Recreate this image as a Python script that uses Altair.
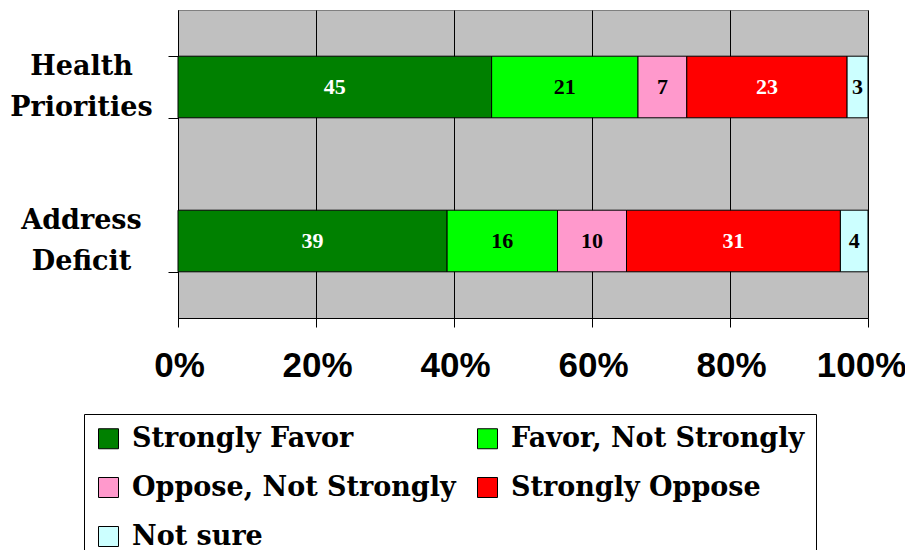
import altair as alt
import pandas as pd

questions = ["Health Priorities", "Address Deficit"]
responses = ["Strongly Favor", "Favor, Not Strongly", "Oppose, Not Strongly", "Strongly Oppose", "Not sure"]
health_values = [45, 21, 7, 23, 3]
deficit_values = [39, 16, 10, 31, 4]
colors = ["#008000", "#00FF00", "#FF99CC", "#FF0000", "#CCFFFF"]
text_colors = ["white", "black", "black", "white", "black"]
x_ticks = [0, 0.2, 0.4, 0.6, 0.8, 1.0]

rows = []
for q, vals in zip(questions, [health_values, deficit_values]):
    for i, (r, v) in enumerate(zip(responses, vals)):
        rows.append({"question": q, "response": r, "value": v, "order": i, "tcolor": text_colors[i]})
df = pd.DataFrame(rows)

serif = "Liberation Serif"
wide_serif = "DejaVu Serif"
sans = "Liberation Sans"

base = alt.Chart(df).transform_stack(
    stack="value", groupby=["question"], as_=["x0", "x1"],
    sort=[alt.SortField("order", order="ascending")], offset="normalize"
).transform_calculate(mid="(datum.x0 + datum.x1) / 2")

y_enc = alt.Y("question:N", sort=questions, title=None,
              scale=alt.Scale(paddingInner=0.6, paddingOuter=0.3),
              axis=alt.Axis(labelExpr="split(datum.label, ' ')", labelFont=wide_serif,
                            labelFontSize=27, labelFontWeight="bold", labelColor="black",
                            labelAlign="center", labelPadding=87, labelLineHeight=41,
                            labelOffset=-21,
                            tickBand="extent", tickSize=10, tickColor="black",
                            domainColor="black", grid=False))

bars = base.mark_bar(stroke="black", strokeWidth=1).encode(
    x=alt.X("x0:Q", title=None, scale=alt.Scale(domain=[0, 1]),
            axis=alt.Axis(values=x_ticks, format="%", labelFont=sans, labelFontSize=35,
                          labelFontWeight="bold", labelColor="black", labelPadding=21,
                          labelFlush=False, labelOverlap=False,
                          labelOffset={"condition": {"test": "datum.value >= 1", "value": -7}, "value": 1},
                          tickSize=9, tickColor="black", domainColor="black",
                          grid=True, gridColor="black", gridOpacity=1, gridWidth=1)),
    x2="x1:Q",
    y=y_enc,
    color=alt.Color("response:N", scale=alt.Scale(domain=responses, range=colors),
                    legend=alt.Legend(title=None, orient="none", legendX=-94, legendY=404,
                                      columns=2, direction="horizontal",
                                      labelFont=wide_serif, labelFontSize=27, labelFontWeight="bold",
                                      labelColor="black", labelLimit=500,
                                      symbolType="square", symbolSize=400,
                                      symbolStrokeColor="black", symbolStrokeWidth=1,
                                      symbolOpacity=1, rowPadding=21, columnPadding=18,
                                      labelOffset=10,
                                      padding=11, strokeColor="black", fillColor="white")),
)

labels = base.mark_text(font=serif, fontSize=22, fontWeight="bold").encode(
    x="mid:Q",
    y=alt.Y("question:N", sort=questions),
    text="value:Q",
    color=alt.Color("tcolor:N", scale=None),
)

chart = (bars + labels).properties(
    width=690, height=308,
    autosize=alt.AutoSizeParams(type="none"),
    padding={"left": 170, "top": 2, "right": 37, "bottom": 232},
).configure_view(fill="#C0C0C0", stroke="#808080", strokeWidth=1)

chart.save("out.html", embed_options={"renderer": "svg", "actions": False})
